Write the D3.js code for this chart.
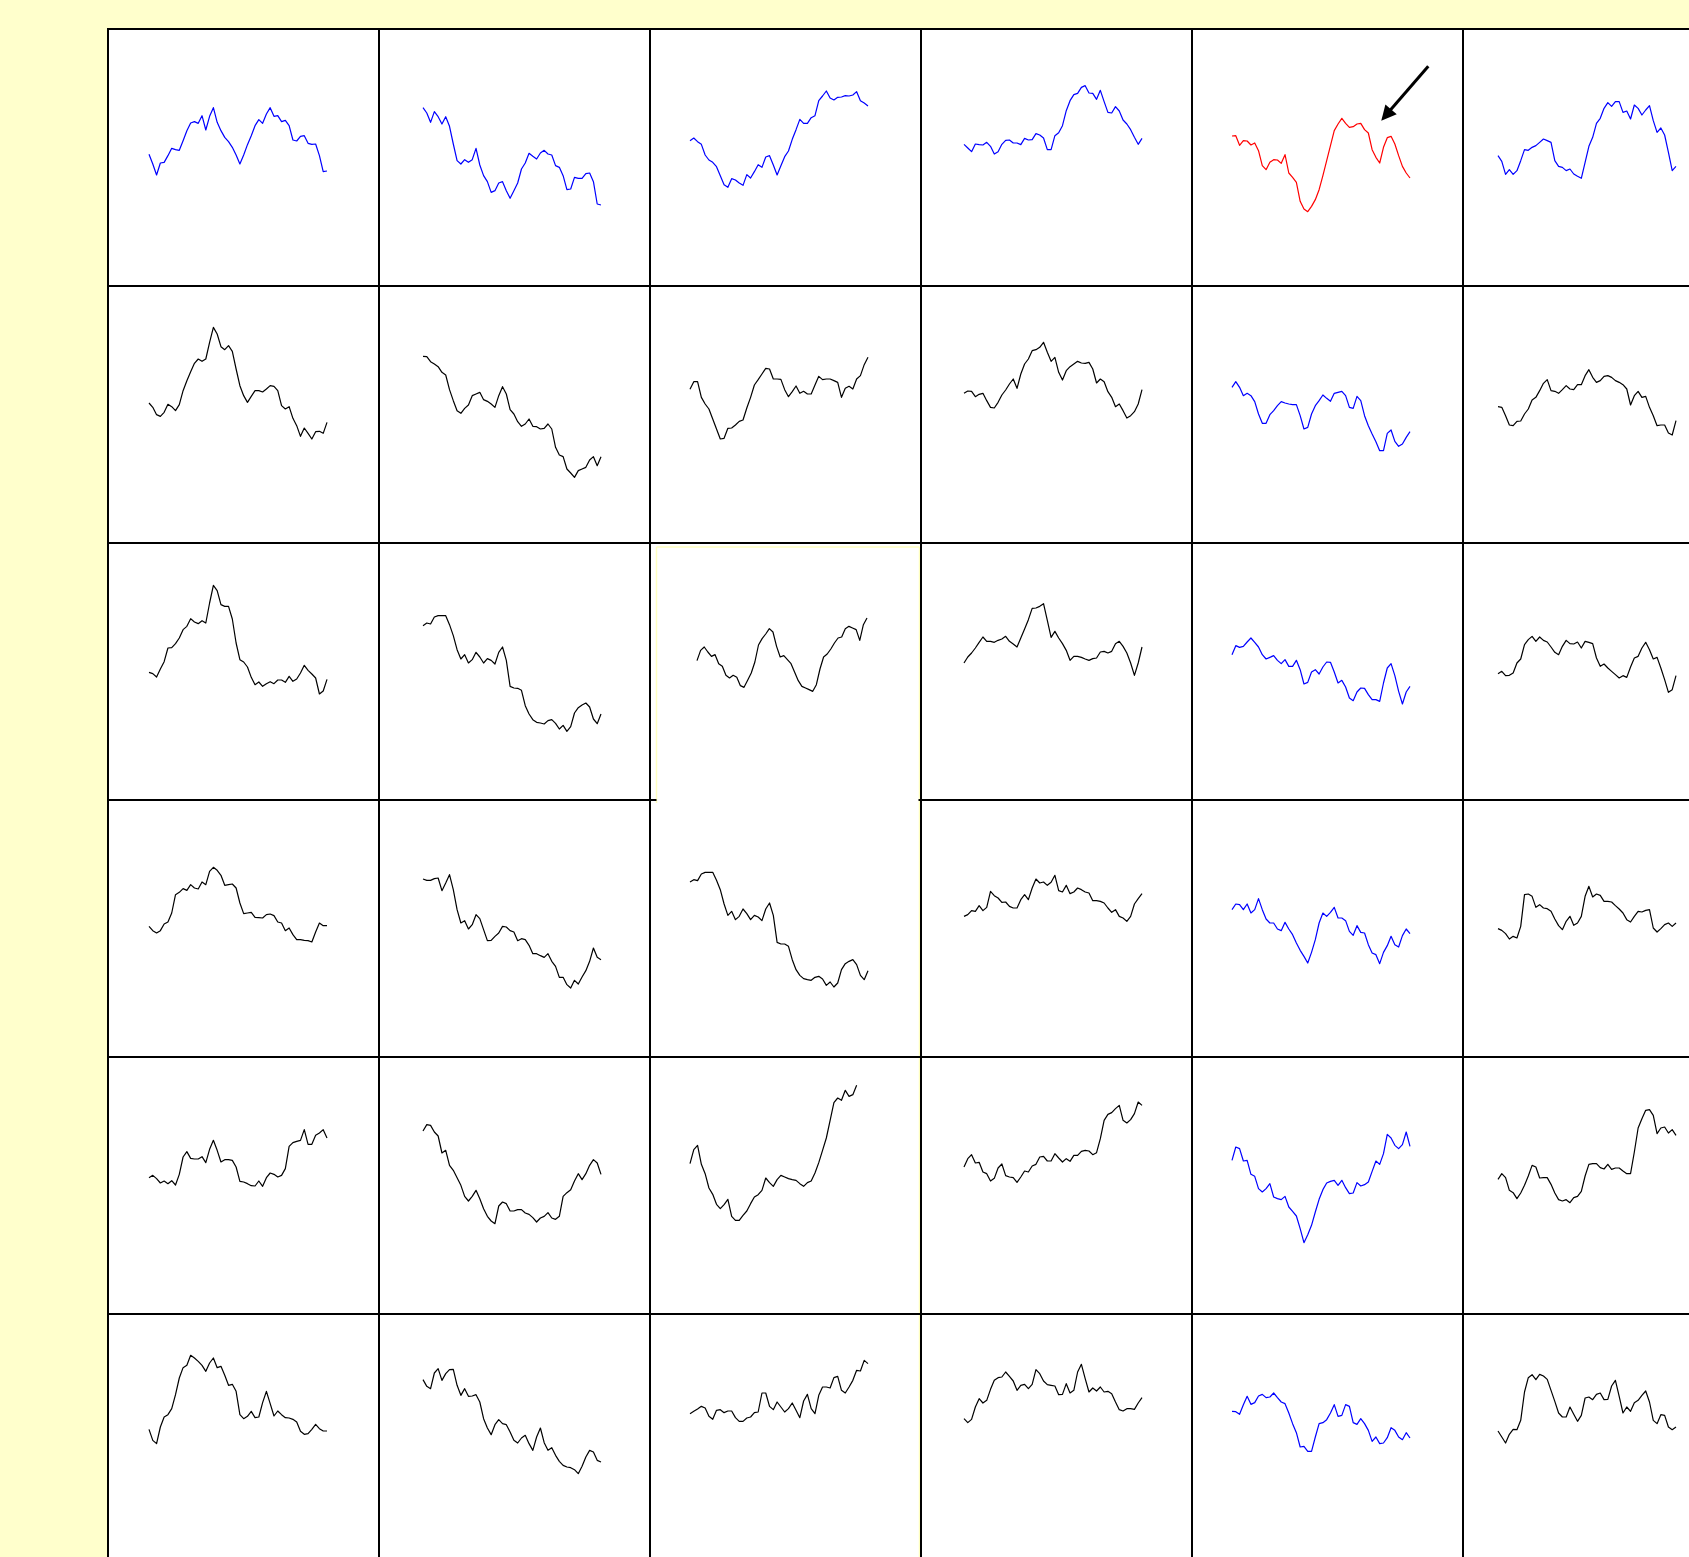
<!DOCTYPE html>
<html>
<head>
<meta charset="utf-8">
<script src="https://cdn.jsdelivr.net/npm/d3@7"></script>
<style>
  html, body { margin: 0; padding: 0; background: #ffffcc; }
  svg { display: block; }
</style>
</head>
<body>
<svg id="chart" width="1689" height="1557"></svg>
<script>
// ---- series, one per grid cell (row r, column c) ----
const r0c0 = [42.4,39.5,36.2,39.8,40.0,42.0,44.2,43.8,43.6,46.5,49.5,51.8,52.2,51.7,54.0,49.7,53.8,56.4,52.0,49.5,47.5,46.2,44.5,42.2,39.5,42.2,45.3,48.0,51.0,52.8,51.7,54.5,56.4,53.8,54.0,52.2,52.6,51.0,46.7,46.4,47.8,48.0,45.7,45.4,45.5,42.0,37.2,37.4];
const r0c1 = [56.4,54.8,52.0,55.2,53.7,51.5,53.7,50.8,45.5,40.5,39.5,40.8,40.0,40.8,44.2,39.2,36.0,34.2,31.0,31.5,33.8,34.2,31.5,29.2,31.5,33.8,38.0,39.8,42.7,41.8,41.0,42.8,43.6,42.5,42.2,39.0,38.5,36.0,31.8,32.0,35.5,35.2,35.2,36.6,36.8,34.2,27.5,27.2];
const r0c2 = [46.5,47.3,46.2,45.4,42.2,40.7,40.0,38.7,36.0,33.3,32.5,35.1,34.7,33.8,33.1,36.3,35.3,37.2,39.3,38.5,41.6,42.0,39.2,36.2,39.0,41.7,43.4,46.9,49.8,52.9,51.7,51.7,53.4,54.0,58.5,59.9,61.4,59.3,58.7,59.5,59.6,60.0,59.9,60.2,61.2,58.5,57.8,56.9];
const r0c3 = [45.4,44.3,43.2,45.5,45.3,45.2,46.0,44.8,42.5,43.2,45.4,46.6,46.7,45.8,45.8,45.3,47.2,46.7,46.8,48.6,48.2,47.3,43.8,43.8,48.0,48.9,51.0,55.5,58.5,60.3,60.7,62.5,63.0,60.8,60.7,58.9,61.6,58.2,55.0,54.8,56.7,55.4,52.7,51.5,49.8,47.5,45.4,47.2];
const r0c4 = [47.9,48.0,45.1,46.5,46.4,45.2,45.8,43.5,39.0,37.8,40.0,40.8,40.7,39.7,42.3,36.8,35.5,34.0,28.3,26.0,25.2,26.8,28.8,31.8,36.0,40.5,45.0,49.5,51.5,53.2,51.7,50.5,50.7,51.5,51.7,49.8,48.8,43.8,41.5,39.8,44.5,47.4,47.8,45.5,42.0,38.8,36.8,35.3];
const r0c5 = [42.0,40.3,36.4,37.8,36.4,37.5,40.5,43.8,43.6,44.5,45.0,46.0,47.0,46.5,46.0,40.5,38.8,38.5,37.5,38.0,36.5,35.8,35.2,40.0,44.8,47.5,51.7,53.2,56.2,57.9,56.8,58.2,58.2,55.0,55.4,53.0,57.2,56.2,54.2,55.7,57.0,52.5,49.0,50.3,48.2,43.0,37.5,38.8];

const r1c0 = [44.9,43.6,41.4,40.9,42.1,44.5,43.8,42.6,44.4,48.6,51.6,54.3,56.8,58.1,57.4,58.1,63.1,67.6,65.6,61.8,60.9,62.1,60.4,55.1,50.1,47.1,45.1,46.9,48.6,48.6,48.2,49.1,50.1,49.9,48.6,44.1,43.1,43.8,40.3,38.1,34.9,37.4,35.8,34.1,36.3,36.4,35.8,39.1];
const r1c1 = [58.9,58.8,57.3,56.6,55.8,54.1,53.3,48.9,45.6,42.6,41.8,43.3,44.3,47.1,47.6,48.1,45.9,45.4,44.6,43.6,47.1,49.8,47.6,42.9,41.6,39.3,37.9,38.6,40.1,37.9,37.8,37.1,37.3,38.6,37.1,31.6,29.3,28.8,25.1,23.9,22.6,24.6,25.1,25.6,27.8,28.8,26.1,28.8];
const r1c2 = [49.0,51.3,51.3,46.6,44.6,43.1,40.1,37.1,34.1,34.3,37.3,37.4,38.3,39.4,39.8,43.4,46.6,50.3,51.9,53.6,55.3,55.1,52.1,52.1,52.0,48.9,46.8,48.3,50.0,47.8,48.4,47.6,47.6,50.3,52.9,51.9,52.1,52.1,51.6,51.1,46.6,49.3,49.9,49.1,52.1,53.1,56.4,58.6];
const r1c3 = [47.8,48.5,48.4,46.8,47.5,47.8,45.6,43.6,43.4,45.1,47.3,48.8,50.6,52.1,49.3,53.6,56.6,58.1,60.6,60.9,61.6,63.1,60.1,57.4,58.6,54.1,51.8,54.6,55.8,56.6,57.4,56.9,56.8,57.1,55.1,50.9,52.1,51.3,48.3,46.6,43.8,44.6,42.6,40.4,41.1,42.3,44.6,48.9];
const r1c4 = [49.6,51.3,49.6,47.1,47.8,47.1,45.3,41.6,38.8,38.8,41.4,42.6,44.1,45.3,44.9,44.6,44.4,44.4,41.1,37.1,37.6,41.6,44.1,45.6,47.3,46.3,45.4,47.8,48.1,48.4,47.1,43.6,43.3,46.9,45.6,41.1,38.1,35.6,33.3,30.6,30.6,35.8,36.8,33.4,31.9,32.6,34.6,36.3];
const r1c5 = [43.8,43.6,41.1,38.3,38.1,39.4,39.5,41.6,43.1,45.8,46.6,48.6,50.8,51.9,48.6,48.4,47.8,48.9,50.1,49.1,48.9,50.4,50.4,53.1,54.9,52.6,51.1,51.6,52.9,53.1,52.6,51.6,51.1,50.4,49.1,44.3,47.1,48.4,46.6,46.9,43.6,41.1,38.1,38.3,38.3,35.9,35.3,39.6];

const r2c0 = [41.2,40.8,39.8,42.2,44.4,48.5,48.6,49.8,51.5,54.0,55.0,57.3,56.3,55.8,56.7,56.0,62.0,67.3,65.7,61.5,61.0,61.0,57.2,50.0,45.0,44.3,42.8,39.7,37.5,38.3,37.0,37.8,38.4,37.8,38.9,38.9,38.2,40.0,38.5,39.2,41.0,43.3,41.8,40.7,39.5,34.7,35.6,39.1];
const r2c1 = [55.2,56.0,55.7,57.8,58.2,58.2,58.2,55.5,52.2,48.0,45.2,46.5,44.0,45.0,47.2,45.8,44.0,45.3,44.8,43.7,47.2,48.8,44.8,37.0,36.5,36.4,35.8,31.2,28.7,27.0,26.2,26.0,25.7,26.7,27.0,25.9,24.2,25.3,23.5,24.9,29.0,30.6,31.4,32.0,30.8,27.2,25.8,28.7];
const r2c2 = [44.7,47.8,48.8,47.3,46.0,46.5,43.8,43.0,40.3,39.5,40.3,39.7,37.2,36.7,38.8,41.0,44.3,49.4,51.3,52.7,54.3,53.3,49.0,45.8,46.2,45.0,43.8,41.2,38.7,37.0,36.5,36.0,35.5,37.5,42.2,45.8,46.7,48.2,50.0,51.5,51.8,54.3,55.0,54.5,54.0,50.8,55.5,57.5];
const r2c3 = [44.0,45.8,47.0,48.5,50.2,51.8,50.5,50.5,50.2,50.8,51.2,52.0,50.5,49.7,48.8,51.5,54.2,57.0,60.4,60.5,61.0,61.8,56.8,51.7,53.5,51.5,49.8,47.8,44.8,46.0,46.0,45.7,45.2,44.8,45.3,45.5,47.3,47.5,47.0,47.5,49.8,50.5,49.0,47.0,44.0,40.3,44.0,48.8];
const r2c4 = [46.5,49.2,48.7,49.0,50.3,51.5,50.2,48.8,46.5,45.2,45.7,46.2,44.8,43.8,45.0,43.0,43.0,44.8,42.0,37.7,38.2,41.3,42.0,40.7,42.8,44.3,44.2,41.3,38.0,38.8,36.8,33.5,32.7,35.3,36.5,36.4,34.5,33.0,33.0,32.5,38.0,42.5,43.8,40.2,35.5,31.7,35.3,37.0];
const r2c5 = [40.8,41.5,40.2,40.3,41.0,44.0,45.2,49.5,51.0,52.0,50.5,51.8,50.8,50.3,48.8,47.2,46.5,49.0,50.8,49.8,49.7,50.3,48.5,50.5,50.2,49.8,45.5,43.0,43.7,42.5,41.5,40.5,39.5,40.2,39.7,42.8,45.5,46.0,48.5,50.2,48.0,45.2,45.7,42.5,39.0,35.2,36.0,40.2];

const r3c0 = [42.1,40.8,40.1,40.8,42.8,43.4,46.1,51.6,52.3,53.4,52.9,54.6,53.6,53.3,55.4,54.6,58.6,59.8,58.9,57.4,54.4,54.6,54.8,53.6,49.1,45.9,46.1,46.3,44.8,44.7,44.6,45.6,45.8,45.3,43.4,43.1,40.8,41.6,39.6,38.1,38.1,37.9,37.8,37.4,40.4,43.1,42.3,42.3];
const r3c1 = [56.3,55.9,55.9,56.4,56.6,52.8,55.1,57.6,53.1,47.1,43.1,43.8,41.3,42.6,45.6,44.4,41.1,37.8,37.9,39.1,40.1,42.1,41.9,40.8,40.4,37.8,38.4,38.1,36.4,33.9,33.9,33.3,32.8,33.9,31.6,30.1,26.8,26.8,24.6,23.6,25.9,24.8,26.9,28.8,31.6,35.6,32.8,32.1];
const r3c2 = [55.4,56.1,55.8,57.8,58.3,58.3,58.3,55.9,53.1,48.8,45.4,46.6,44.1,45.1,47.3,45.9,44.1,45.4,44.9,43.8,47.3,49.1,45.4,37.3,36.8,36.8,36.1,32.1,29.1,27.4,26.4,26.1,25.9,26.8,27.1,26.3,24.4,25.4,23.9,25.1,29.1,30.9,31.6,32.1,30.6,27.4,26.1,28.8];
const r3c3 = [45.1,45.6,46.8,46.6,48.3,46.8,47.8,52.6,51.3,50.6,49.3,49.4,48.1,47.6,47.6,50.1,51.6,50.1,53.6,56.3,55.1,55.4,54.4,55.3,57.4,52.8,52.4,54.4,51.9,52.4,53.6,53.1,52.4,52.1,49.8,49.8,49.6,49.1,47.6,46.3,47.1,45.1,44.6,43.6,45.1,48.8,50.4,51.9];
const r3c4 = [47.1,48.8,48.6,47.1,48.8,46.1,47.1,50.4,47.1,44.3,43.1,43.1,41.3,40.8,43.3,41.3,39.6,37.1,34.9,33.1,31.1,34.3,38.1,43.1,46.1,45.1,46.3,47.8,44.6,44.6,43.8,40.6,39.4,42.3,40.3,40.1,36.6,34.1,33.6,30.9,34.3,36.3,39.1,36.6,35.9,39.3,41.3,39.9];
const r3c5 = [41.4,40.9,39.9,38.3,39.1,38.6,42.1,51.6,51.8,51.1,47.8,48.6,47.6,47.4,46.6,44.3,42.3,41.1,43.6,45.1,42.4,43.1,45.1,51.1,54.1,50.9,51.8,51.4,49.6,49.6,49.4,48.3,47.3,46.1,44.1,43.4,45.1,46.6,46.4,46.9,47.1,41.6,40.4,41.4,42.6,43.1,42.1,43.1];

const r4c0 = [43.8,44.5,43.5,42.2,42.8,42.0,42.9,41.6,44.8,50.0,51.6,49.6,49.4,49.4,50.1,48.3,52.3,55.0,52.0,48.5,49.2,49.2,49.0,47.0,42.7,42.5,42.0,41.4,41.3,42.8,41.2,43.8,45.2,44.8,44.0,44.5,46.5,53.2,54.3,54.7,55.0,58.2,53.8,53.8,56.5,57.2,58.2,55.7];
const r4c1 = [57.8,59.7,59.5,57.5,56.3,51.2,52.0,47.5,46.0,43.8,41.5,38.2,36.8,38.2,40.0,37.5,34.5,32.2,30.8,30.0,35.3,36.5,36.0,33.8,33.8,34.2,34.2,33.2,32.8,31.8,30.5,31.7,32.2,33.3,31.7,31.3,32.2,38.2,39.3,40.2,42.8,45.0,43.2,45.0,47.5,49.2,48.2,44.8];
const r4c2 = [48.0,52.2,53.5,47.8,45.0,40.7,38.8,35.8,34.5,35.7,37.3,32.2,31.0,31.0,32.5,33.8,36.0,38.0,38.7,40.0,43.7,42.3,41.2,43.2,44.5,44.0,43.5,43.2,43.0,42.0,41.2,42.3,42.8,45.2,48.3,52.0,55.7,61.0,66.3,67.7,67.0,70.0,68.2,68.7,71.5];
const r4c3 = [47.0,49.5,50.7,48.2,48.4,45.5,45.0,42.8,43.6,46.7,47.9,44.4,44.0,43.8,42.4,44.0,45.8,45.5,47.3,47.8,50.0,50.2,48.8,48.8,51.0,49.7,48.5,49.5,48.7,50.5,50.5,51.7,52.0,51.8,50.7,51.3,55.5,61.0,62.8,63.3,64.5,65.5,61.0,60.2,61.2,63.0,66.5,65.5];
const r4c4 = [49.0,53.0,52.5,48.8,49.0,44.8,44.2,40.5,39.5,40.5,42.0,38.0,37.5,37.2,38.2,35.0,33.7,32.3,28.5,24.3,26.7,29.5,33.5,37.3,40.2,42.2,42.7,43.0,41.5,43.0,40.8,39.0,39.2,42.3,41.3,41.7,42.5,45.7,48.8,47.8,51.0,56.8,55.7,53.5,52.5,53.7,57.5,53.2];
const r4c5 = [43.3,45.0,43.8,40.0,39.3,37.5,39.2,41.5,44.3,47.5,47.0,43.7,43.8,43.8,41.8,39.2,37.2,36.8,37.2,36.3,37.8,38.2,39.7,44.3,47.8,48.0,48.0,46.8,46.4,47.8,46.3,46.7,46.7,45.8,45.0,45.0,51.5,58.7,61.5,64.0,64.2,62.5,57.0,58.7,59.0,57.2,58.2,56.5];

const r5c0 = [45.4,42.1,41.1,46.1,49.1,49.8,51.6,55.8,60.8,63.9,64.6,67.6,66.8,65.8,64.6,62.8,65.3,66.8,63.9,64.3,61.6,58.6,58.9,56.8,49.8,48.6,49.3,50.8,48.9,49.1,53.4,56.8,53.1,49.4,50.9,49.8,48.9,48.8,48.4,47.6,44.8,43.9,44.1,45.4,46.9,45.6,44.9,44.9];
const r5c1 = [60.3,58.3,57.6,62.3,63.6,60.1,62.1,63.3,63.4,58.6,55.6,57.6,55.3,55.4,55.8,53.6,48.6,45.8,43.8,46.8,48.3,47.1,46.8,44.6,42.1,41.3,42.8,43.6,41.1,39.1,43.1,45.8,41.4,39.1,39.9,37.6,35.8,34.6,34.1,33.9,33.3,32.1,34.3,37.1,39.1,38.6,36.1,35.6];
const r5c2 = [50.1,50.8,51.5,52.3,51.8,49.3,48.4,51.1,51.3,50.4,50.9,50.9,48.9,47.8,47.8,48.8,49.1,50.4,50.6,56.3,56.3,52.3,51.3,53.6,52.1,50.6,51.6,53.3,51.1,48.9,53.9,55.9,51.6,50.1,55.6,58.1,58.1,57.8,60.9,61.3,57.1,56.3,58.1,60.1,63.1,62.9,66.1,65.1];
const r5c3 = [48.6,47.4,48.4,52.1,54.6,53.3,54.1,57.4,60.1,60.9,61.1,62.6,61.3,59.9,57.1,58.6,58.9,57.6,58.9,63.3,62.1,59.9,58.8,58.6,58.4,55.8,55.9,59.1,56.3,57.1,62.6,64.9,60.6,56.6,57.8,56.9,58.1,56.6,56.8,56.1,53.6,51.3,50.9,51.6,51.6,51.4,53.3,54.9];
const r5c4 = [50.8,50.7,49.9,52.8,55.3,52.9,53.4,55.4,55.9,54.9,55.1,56.3,54.9,53.6,53.1,50.3,47.1,44.4,40.1,40.3,38.8,38.8,43.1,47.1,47.4,48.3,50.3,52.8,49.3,49.6,52.8,52.3,47.4,46.9,48.6,47.1,45.1,41.8,43.1,41.1,41.3,42.9,45.9,45.1,43.1,42.3,44.4,42.8];
const r5c5 = [44.9,43.1,41.3,43.9,45.4,45.3,48.1,56.6,60.9,61.8,60.3,61.9,61.4,60.4,57.1,53.8,50.3,49.1,49.1,52.1,49.9,47.8,49.6,54.8,55.1,54.3,55.9,56.3,54.3,54.4,58.4,60.1,55.3,50.3,52.1,50.8,53.4,54.1,55.6,56.9,53.6,48.1,47.1,49.8,49.6,46.1,45.3,46.1];

// shared domains
const steps = 48;               // points per full-length series
const valueDomain = [2.9, 80];  // common value range of every panel

// highlighted row / column and the single focus series
const focusRow = 0;
const focusCol = 4;

const grid = [
  [r0c0, r0c1, r0c2, r0c3, r0c4, r0c5],
  [r1c0, r1c1, r1c2, r1c3, r1c4, r1c5],
  [r2c0, r2c1, r2c2, r2c3, r2c4, r2c5],
  [r3c0, r3c1, r3c2, r3c3, r3c4, r3c5],
  [r4c0, r4c1, r4c2, r4c3, r4c4, r4c5],
  [r5c0, r5c1, r5c2, r5c3, r5c4, r5c5]
];

// ---- layout ----
const W = 1689, H = 1557;
const gridLeft = 108, gridTop = 29;
const cellW = 271, cellH = 257;
const plotStart = [41, 44, 40, 43, 40, 35];   // left edge of the sparkline inside each column
const plotSpan = 178;
const inset = { row: 2, col: 2, dx: 6.5, dy: 4, start: 47, end: 217 };

const svg = d3.select('#chart');

// white sheet behind the grid
svg.append('rect')
  .attr('x', gridLeft).attr('y', gridTop)
  .attr('width', W - gridLeft).attr('height', H - gridTop)
  .attr('fill', '#ffffff');

// framed panel spanning two rows in the middle column
const fx0 = gridLeft + inset.col * cellW + inset.dx;
const fx1 = gridLeft + (inset.col + 1) * cellW - 1.5;
const fy0 = gridTop + inset.row * cellH + inset.dy;
const splitY = gridTop + (inset.row + 1) * cellH;
const frame = svg.append('g').attr('stroke', '#ffffc0').attr('stroke-width', 1.5).attr('fill', 'none');
frame.append('line').attr('x1', fx0).attr('x2', fx1).attr('y1', fy0).attr('y2', fy0);
frame.append('line').attr('x1', fx0).attr('x2', fx0).attr('y1', fy0).attr('y2', splitY + 3);
frame.append('line').attr('x1', fx1).attr('x2', fx1).attr('y1', fy0).attr('y2', H);

// grid rules; the rule between the two framed rows is left open inside the frame
const gridG = svg.append('g').attr('class', 'grid').attr('stroke', '#000').attr('stroke-width', 2);
d3.range(6).forEach(j => {
  const x = gridLeft + j * cellW;
  gridG.append('line').attr('x1', x).attr('x2', x).attr('y1', gridTop - 1).attr('y2', H);
});
d3.range(6).forEach(i => {
  const y = gridTop + i * cellH;
  if (i === inset.row + 1) {
    gridG.append('line').attr('x1', gridLeft).attr('x2', fx0).attr('y1', y).attr('y2', y);
    gridG.append('line').attr('x1', fx1 - 1).attr('x2', W).attr('y1', y).attr('y2', y);
  } else {
    gridG.append('line').attr('x1', gridLeft).attr('x2', W).attr('y1', y).attr('y2', y);
  }
});

// ---- sparklines ----
const color = (i, j) => (i === focusRow && j === focusCol) ? '#ff0000'
                    : (i === focusRow || j === focusCol) ? '#0000ff' : '#000000';

const lines = svg.append('g').attr('class', 'series').attr('fill', 'none');
const scales = {};
grid.forEach((row, i) => row.forEach((values, j) => {
  const cx = gridLeft + j * cellW;
  const cy = gridTop + i * cellH;
  const isInset = (i === inset.row && j === inset.col);
  const x = d3.scaleLinear()
    .domain([0, steps - 1])
    .range(isInset ? [cx + inset.start, cx + inset.end] : [cx + plotStart[j], cx + plotStart[j] + plotSpan]);
  const y = d3.scaleLinear().domain(valueDomain).range([cy + cellH, cy]);
  scales[i + '-' + j] = { x, y };
  const line = d3.line().x((d, k) => x(k)).y(d => y(d));
  lines.append('path')
    .datum(values)
    .attr('d', line)
    .attr('stroke', color(i, j))
    .attr('stroke-width', 1.2)
    .attr('stroke-linejoin', 'round');
}));

// ---- arrow pointing at the focus series ----
const arrowTarget = { index: 41, tip: [-6, -17], tail: [41, -71.5] };
const fs = scales[focusRow + '-' + focusCol];
const px = fs.x(arrowTarget.index), py = fs.y(grid[focusRow][focusCol][arrowTarget.index]);
const tip = [px + arrowTarget.tip[0], py + arrowTarget.tip[1]];
const tail = [px + arrowTarget.tail[0], py + arrowTarget.tail[1]];
const ang = Math.atan2(tip[1] - tail[1], tip[0] - tail[0]);
const headLen = 15, headHalf = 7.5;
const base = [tip[0] - headLen * Math.cos(ang), tip[1] - headLen * Math.sin(ang)];
svg.append('line')
  .attr('x1', tail[0]).attr('y1', tail[1])
  .attr('x2', base[0] + 2 * Math.cos(ang)).attr('y2', base[1] + 2 * Math.sin(ang))
  .attr('stroke', '#000').attr('stroke-width', 3);
svg.append('path')
  .attr('d', d3.line()([
    tip,
    [base[0] + headHalf * Math.sin(ang), base[1] - headHalf * Math.cos(ang)],
    [base[0] - headHalf * Math.sin(ang), base[1] + headHalf * Math.cos(ang)]
  ]) + 'Z')
  .attr('fill', '#000');
</script>
</body>
</html>
